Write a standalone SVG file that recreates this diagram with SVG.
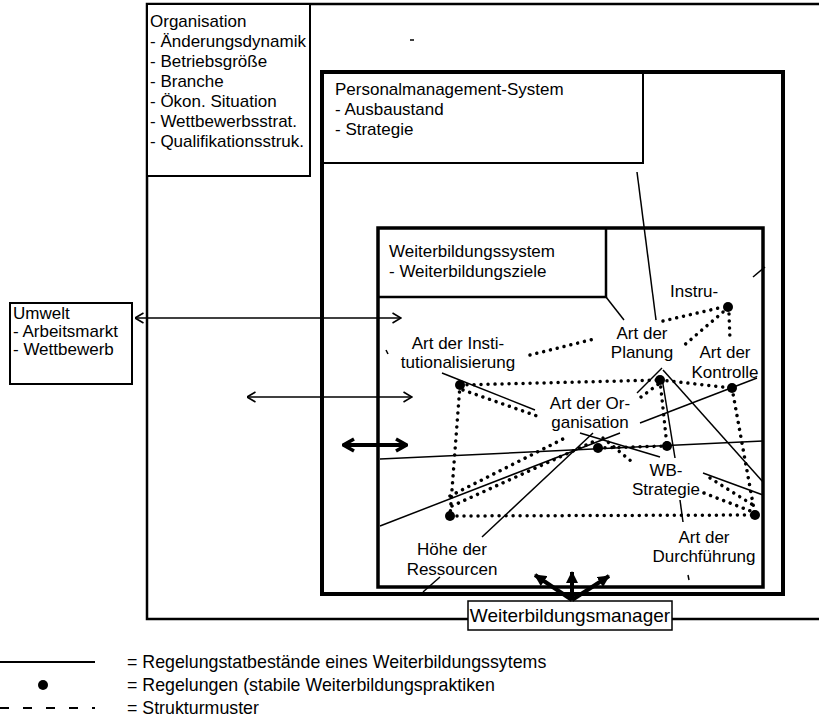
<svg xmlns="http://www.w3.org/2000/svg" width="819" height="727" viewBox="0 0 819 727">
<style>
.t{font-family:"Liberation Sans",Arial,sans-serif;font-size:17px;fill:#000}
.m{text-anchor:middle}
.lg{font-size:17.8px}
.box{fill:#fff;stroke:#000;stroke-width:2}
.bold{fill:none;stroke:#000;stroke-width:4}
.ln{fill:none;stroke:#000;stroke-width:1.5}
.dt{fill:none;stroke:#000;stroke-width:3.5;stroke-linecap:round;stroke-dasharray:0.01 7}
.dot{fill:#000}
</style>
<defs>
<marker id="oa" viewBox="0 0 10 12" refX="9.5" refY="6" markerWidth="10" markerHeight="12" markerUnits="userSpaceOnUse" orient="auto-start-reverse">
<path d="M1,1 L9.5,6 L1,11" fill="none" stroke="#000" stroke-width="1.6"/>
</marker>
<marker id="ob" viewBox="0 0 14 16" refX="13" refY="8" markerWidth="14" markerHeight="16" markerUnits="userSpaceOnUse" orient="auto-start-reverse">
<path d="M2,2 L12.5,8 L2,14" fill="none" stroke="#000" stroke-width="3.5"/>
</marker>
<marker id="fa" viewBox="0 0 12 12" refX="11" refY="6" markerWidth="12" markerHeight="12" markerUnits="userSpaceOnUse" orient="auto">
<path d="M0,0 L12,6 L0,12 z" fill="#000"/>
</marker>
</defs>
<rect width="819" height="727" fill="#fff"/>

<g id="organisation">
<path d="M819,4 H147 V619 H468 M672,619 H819" fill="none" stroke="#000" stroke-width="2.5"/>
<rect x="147" y="4" width="163" height="172" class="box"/>
<text class="t" x="150" y="27">Organisation</text>
<text class="t" x="150" y="47">- Änderungsdynamik</text>
<text class="t" x="150" y="67">- Betriebsgröße</text>
<text class="t" x="150" y="87">- Branche</text>
<text class="t" x="150" y="107">- Ökon. Situation</text>
<text class="t" x="150" y="127">- Wettbewerbsstrat.</text>
<text class="t" x="150" y="147">- Qualifikationsstruk.</text>
</g>

<g id="personalmanagement">
<rect x="322" y="72" width="461" height="522" fill="none" stroke="#000" stroke-width="4"/>
<path d="M643,72 V163 H322" fill="none" stroke="#000" stroke-width="2"/>
<text class="t" x="335" y="95">Personalmanagement-System</text>
<text class="t" x="335" y="115">- Ausbaustand</text>
<text class="t" x="335" y="135">- Strategie</text>
</g>

<g id="weiterbildungssystem">
<rect x="378" y="228" width="385" height="359" fill="none" stroke="#000" stroke-width="3.5"/>
<path d="M606,228 V297 H378" fill="none" stroke="#000" stroke-width="2.5"/>
<text class="t" x="389" y="257">Weiterbildungssystem</text>
<text class="t" x="389" y="277">- Weiterbildungsziele</text>
</g>

<g id="umwelt">
<rect x="10" y="303" width="122" height="81" class="box"/>
<text class="t" x="13" y="319">Umwelt</text>
<text class="t" x="13" y="337">- Arbeitsmarkt</text>
<text class="t" x="13" y="355">- Wettbewerb</text>
</g>

<g id="weiterbildungsmanager">
<rect x="468" y="601" width="204" height="29" fill="#fff" stroke="#000" stroke-width="1.5"/>
<text class="t m" x="570" y="622" style="font-size:19px">Weiterbildungsmanager</text>
</g>

<g id="labels">
<text class="t" x="670" y="297">Instru-</text>
<text class="t m" x="642" y="339">Art der</text>
<text class="t m" x="642" y="358">Planung</text>
<text class="t m" x="725" y="358">Art der</text>
<text class="t m" x="725" y="378">Kontrolle</text>
<text class="t m" x="458" y="349">Art der Insti-</text>
<text class="t m" x="458" y="368">tutionalisierung</text>
<text class="t m" x="590" y="409">Art der Or-</text>
<text class="t m" x="590" y="428">ganisation</text>
<text class="t m" x="666" y="476">WB-</text>
<text class="t m" x="666" y="495">Strategie</text>
<text class="t m" x="704" y="543">Art der</text>
<text class="t m" x="704" y="562">Durchführung</text>
<text class="t m" x="452" y="555">Höhe der</text>
<text class="t m" x="452" y="575">Ressourcen</text>
</g>

<g id="regelungen">
<circle class="dot" cx="728" cy="307" r="5"/>
<circle class="dot" cx="660" cy="380" r="5"/>
<circle class="dot" cx="732" cy="388" r="5"/>
<circle class="dot" cx="460" cy="385" r="5"/>
<circle class="dot" cx="598" cy="448" r="5"/>
<circle class="dot" cx="667" cy="446" r="5"/>
<circle class="dot" cx="450" cy="516" r="5"/>
<circle class="dot" cx="755" cy="515" r="5"/>
</g>

<g id="connectors">
<line class="ln" x1="135" y1="318" x2="401" y2="318" marker-start="url(#oa)" marker-end="url(#oa)"/>
<line class="ln" x1="247" y1="397" x2="412" y2="397" marker-start="url(#oa)" marker-end="url(#oa)"/>
<line class="bold" x1="343" y1="445" x2="407" y2="445" marker-start="url(#ob)" marker-end="url(#ob)"/>
<line class="bold" x1="572" y1="600" x2="535" y2="575" marker-end="url(#fa)"/>
<line class="bold" x1="572" y1="600" x2="572" y2="572" marker-end="url(#fa)"/>
<line class="bold" x1="572" y1="600" x2="609" y2="576" marker-end="url(#fa)"/>

<line class="ln" x1="637" y1="172" x2="656" y2="320"/>
<line class="ln" x1="753" y1="277" x2="765" y2="267"/>
<line class="ln" x1="606" y1="297" x2="624" y2="320"/>
<line class="ln" x1="663" y1="370" x2="763" y2="482"/>
<line class="ln" x1="662" y1="378" x2="675" y2="458"/>
<line class="ln" x1="640" y1="423" x2="757" y2="378"/>
<line class="ln" x1="380" y1="459" x2="763" y2="441"/>
<line class="ln" x1="380" y1="526" x2="620" y2="433"/>
<line class="ln" x1="482" y1="537" x2="593" y2="433"/>
<line class="ln" x1="580" y1="433" x2="660" y2="457"/>
<line class="ln" x1="442" y1="373" x2="535" y2="410"/>
<line class="ln" x1="703" y1="473" x2="763" y2="495"/>
<line class="ln" x1="680" y1="500" x2="683" y2="522"/>
<line class="ln" x1="688" y1="575" x2="689" y2="580"/>
<line class="ln" x1="440" y1="577" x2="423" y2="592"/>
<line class="ln" x1="637" y1="393" x2="662" y2="368"/>
<line class="ln" x1="386" y1="350" x2="388" y2="354"/>
<line class="ln" x1="410" y1="40" x2="414" y2="40"/>

<line class="dt" x1="663" y1="321" x2="723" y2="307"/>
<line class="dt" x1="723" y1="312" x2="682" y2="347"/>
<line class="dt" x1="729" y1="314" x2="730" y2="340"/>
<line class="dt" x1="530" y1="355" x2="598" y2="338"/>
<line class="dt" x1="460" y1="385" x2="660" y2="380"/>
<line class="dt" x1="660" y1="380" x2="732" y2="388"/>
<line class="dt" x1="660" y1="380" x2="667" y2="446"/>
<line class="dt" x1="732" y1="388" x2="755" y2="515"/>
<line class="dt" x1="460" y1="385" x2="450" y2="516"/>
<line class="dt" x1="450" y1="516" x2="755" y2="515"/>
<line class="dt" x1="463" y1="390" x2="537" y2="416"/>
<line class="dt" x1="450" y1="496" x2="567" y2="437"/>
<line class="dt" x1="452" y1="506" x2="595" y2="441"/>
<line class="dt" x1="598" y1="448" x2="667" y2="446"/>
<line class="dt" x1="603" y1="438" x2="631" y2="461"/>
<line class="dt" x1="710" y1="478" x2="753" y2="505"/>
<line class="dt" x1="704" y1="493" x2="753" y2="512"/>
<line class="dt" x1="641" y1="397" x2="660" y2="383"/>
</g>

<g id="legend">
<line x1="0" y1="662" x2="95" y2="662" stroke="#000" stroke-width="2"/>
<circle class="dot" cx="43" cy="685" r="5"/>
<line x1="0" y1="708" x2="95" y2="708" stroke="#000" stroke-width="2" stroke-dasharray="9 14"/>
<text class="t lg" x="127" y="668">= Regelungstatbestände eines Weiterbildungssytems</text>
<text class="t lg" x="127" y="691">= Regelungen (stabile Weiterbildungspraktiken</text>
<text class="t lg" x="127" y="714">= Strukturmuster</text>
</g>
</svg>
